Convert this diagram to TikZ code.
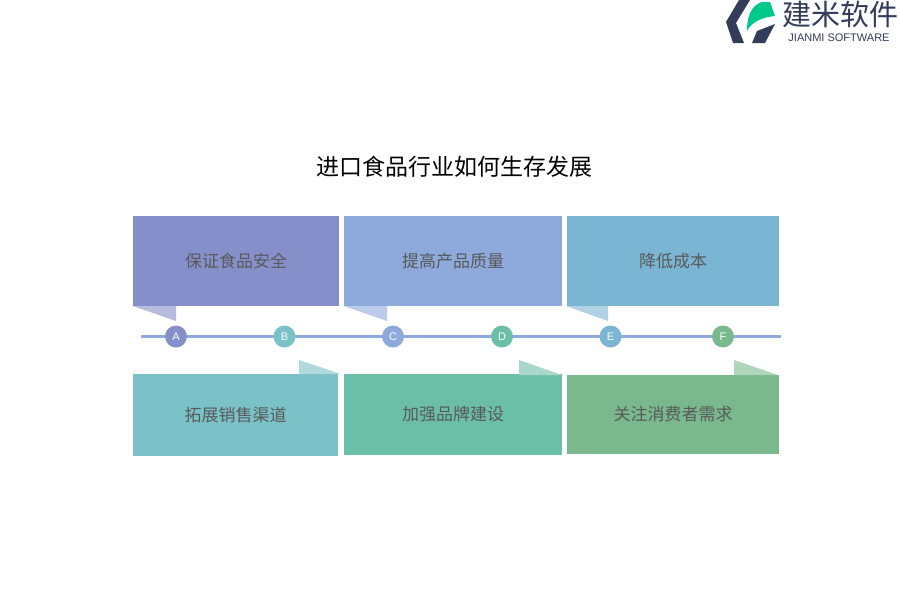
\documentclass[tikz,border=0pt]{standalone}
\usepackage{fontspec}
\newfontfamily\cjk{Noto Sans CJK SC}
\setsansfont{Liberation Sans}
\definecolor{cola}{HTML}{8590CB}
\definecolor{colb}{HTML}{7BC2C8}
\definecolor{colc}{HTML}{8EA9DB}
\definecolor{cold}{HTML}{6CBFA7}
\definecolor{cole}{HTML}{7AB6D3}
\definecolor{colf}{HTML}{79B98D}
\definecolor{logoblue}{HTML}{333C5A}
\definecolor{logogreen}{HTML}{00C78A}
\definecolor{labelgray}{HTML}{595959}
\begin{document}
\begin{tikzpicture}[x=1pt,y=-1pt,
	panel/.style = {draw=none, inner sep=0pt, font=\cjk\fontsize{17}{17}\selectfont,
		text=labelgray},
	dot/.style = {circle, draw=none, inner sep=0pt, minimum size=22pt, text=white,
		font=\sffamily\fontsize{11}{11}\selectfont}]
	\useasboundingbox (0,0) rectangle (900,600);
	\node (title) at (454,166.5) {\cjk\fontsize{23}{23}\selectfont 进口食品行业如何生存发展};
	% upper row
	\node[panel, fill=cola, minimum width=206pt, minimum height=90pt] (pa) at (236,261) {保证食品安全};
	\node[panel, fill=colc, minimum width=218pt, minimum height=90pt] (pc) at (453,261) {提高产品质量};
	\node[panel, fill=cole, minimum width=212pt, minimum height=90pt] (pe) at (673,261) {降低成本};
	% lower row
	\node[panel, fill=colb, minimum width=205pt, minimum height=82pt] (pb) at (235.5,415) {拓展销售渠道};
	\node[panel, fill=cold, minimum width=218pt, minimum height=81pt] (pd) at (453,414.5) {加强品牌建设};
	\node[panel, fill=colf, minimum width=212pt, minimum height=79pt] (pf) at (673,414.5) {关注消费者需求};
	% folded corners
	\fill[cola!60] (133,306) -- (176,306) -- (176,321) -- cycle;
	\fill[colc!60] (344,306) -- (387,306) -- (387,321) -- cycle;
	\fill[cole!60] (566,306) -- (608,306) -- (608,321) -- cycle;
	\fill[colb!60] (299,360) -- (299,374) -- (341,374) -- cycle;
	\fill[cold!60] (519,360) -- (519,375) -- (562,375) -- cycle;
	\fill[colf!60] (734,360) -- (734,375) -- (778,375) -- cycle;
	% time line
	\coordinate (start) at (141,336.5);
	\coordinate (end) at (781,336.5);
	\draw[colc, line width=2.4pt] (start) -- (end);
	\node[dot, fill=cola] (a) at (176,336.5) {A};
	\node[dot, fill=colb] (b) at (284.5,336.5) {B};
	\node[dot, fill=colc] (c) at (393,336.5) {C};
	\node[dot, fill=cold] (d) at (502,336.5) {D};
	\node[dot, fill=cole] (e) at (610.5,336.5) {E};
	\node[dot, fill=colf] (f) at (723,336.5) {F};
	% logo
	\fill[logoblue] (739,0) -- (750,0) -- (736,23) -- (744,43) -- (733,43) -- (726,22) -- cycle;
	\fill[logoblue] (752,43) -- (757,31) -- (775,24) -- (765,43) -- cycle;
	\fill[logogreen] (747,31) .. controls (747,15) and (752,5) .. (762,2)
		-- (770,2) -- (775,16) .. controls (764,17) and (752,21) .. (747,31) -- cycle;
	\node[text=logoblue, inner sep=0pt] (brand) at (840,14) {\cjk\fontsize{29}{29}\selectfont 建米软件};
	\node[text=logoblue, inner sep=0pt] (brandsub) at (839,38) {\sffamily\fontsize{11}{11}\selectfont JIANMI SOFTWARE};
\end{tikzpicture}
\end{document}
